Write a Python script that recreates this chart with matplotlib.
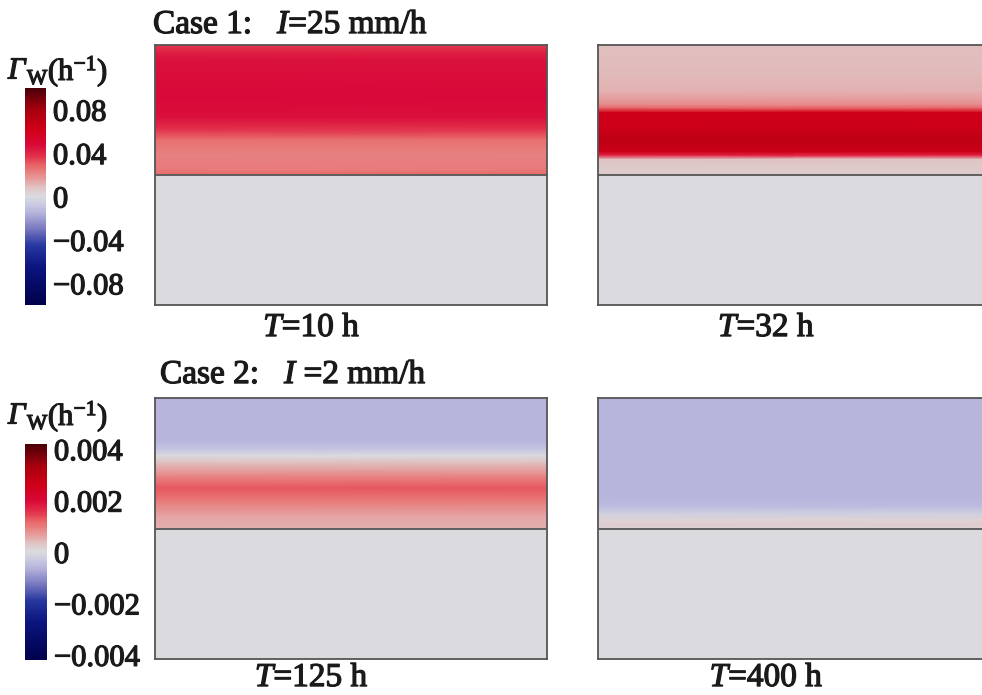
import numpy as np
import matplotlib
matplotlib.use("Agg")
import matplotlib.pyplot as plt
import matplotlib.patheffects as pe
from matplotlib.colors import LinearSegmentedColormap, Normalize
from matplotlib.cm import ScalarMappable

plt.rcParams['font.family'] = ['Liberation Serif', 'DejaVu Serif']
plt.rcParams['mathtext.fontset'] = 'custom'
plt.rcParams['mathtext.rm'] = 'Liberation Serif'
plt.rcParams['mathtext.it'] = 'Liberation Serif:italic'
plt.rcParams['mathtext.bf'] = 'Liberation Serif:bold'

# ---- data: vertical profiles of Gamma_W in the upper layer (height z from 0.5 to 1) ----
z_c1_t10 = [1.00, 0.97, 0.94, 0.80, 0.72, 0.67, 0.635, 0.58, 0.52, 0.50]
g_c1_t10 = [0.036, 0.042, 0.046, 0.048, 0.046, 0.036, 0.026, 0.022, 0.024, 0.028]

z_c1_t32 = [1.00, 0.90, 0.82, 0.77, 0.755, 0.74, 0.68, 0.635, 0.59, 0.575, 0.56, 0.53, 0.50]
g_c1_t32 = [0.009, 0.010, 0.012, 0.020, 0.030, 0.062, 0.064, 0.070, 0.064, 0.040, 0.008, 0.006, 0.006]

z_c2_t125 = [1.00, 0.837, 0.806, 0.779, 0.748, 0.70, 0.655, 0.605, 0.547, 0.50]
g_c2_t125 = [-0.0006, -0.0006, -0.0004, 0.0, 0.0004, 0.0009, 0.0013, 0.0010, 0.0006, 0.0005]

z_c2_t400 = [1.00, 0.80, 0.62, 0.585, 0.558, 0.535, 0.512, 0.50]
g_c2_t400 = [-0.0006, -0.0006, -0.0006, -0.0005, -0.0002, 0.0001, 0.0002, 0.0001]

lower_value = 0.0
interface_z = 0.5

case_titles = ["Case 1:   $\\mathit{I}$=25 mm/h", "Case 2:   $\\mathit{I}$ =2 mm/h"]
time_labels = [["$\\mathit{T}$=10 h", "$\\mathit{T}$=32 h"],
               ["$\\mathit{T}$=125 h", "$\\mathit{T}$=400 h"]]
vmax_cases = [0.10, 0.0042]
cb_ticks = [[0.08, 0.04, 0.0, -0.04, -0.08], [0.004, 0.002, 0.0, -0.002, -0.004]]
cb_ticklabels = [["0.08", "0.04", "0", "\u22120.04", "\u22120.08"],
                 ["0.004", "0.002", "0", "\u22120.002", "\u22120.004"]]

profiles = [[(z_c1_t10, g_c1_t10), (z_c1_t32, g_c1_t32)],
            [(z_c2_t125, g_c2_t125), (z_c2_t400, g_c2_t400)]]

# ---- colormap ----
nodes = [
    (0.000, "#00004a"),
    (0.175, "#0c1480"),
    (0.275, "#2838a0"),
    (0.350, "#7878c0"),
    (0.425, "#b6b4dc"),
    (0.460, "#c8c8e2"),
    (0.500, "#dadbe0"),
    (0.540, "#e0c4c4"),
    (0.590, "#e79494"),
    (0.640, "#e86868"),
    (0.690, "#e22e4a"),
    (0.740, "#d80838"),
    (0.810, "#d00018"),
    (0.900, "#a8000e"),
    (1.000, "#4a0008"),
]
cmap = LinearSegmentedColormap.from_list("gw", nodes)

W, H = 982, 695
fig = plt.figure(figsize=(W / 100, H / 100), dpi=100)

def ax_rect(left, top, right, bottom):
    return [left / W, 1 - bottom / H, (right - left) / W, (bottom - top) / H]

txt = '#1a1a1a'
semibold = [pe.withStroke(linewidth=0.9, foreground=txt)]

panel_boxes = [[(155, 45, 547, 305), (598, 45, 990, 305)],
               [(155, 398, 547, 659), (598, 398, 990, 659)]]
label_x = [0.40, 0.43]
label_y = [328, 678]
cb_boxes = [(25, 88, 46, 305), (25, 444, 47, 660)]
title_pos = [(153, 25), (160, 375)]
cblabel_pos = [(8, 71), (8, 416)]

edge = "#555555"
for r in range(2):
    norm = Normalize(vmin=-vmax_cases[r], vmax=vmax_cases[r])
    for c in range(2):
        ax = fig.add_axes(ax_rect(*panel_boxes[r][c]))
        z, g = profiles[r][c]
        z = np.asarray(z)
        g = np.asarray(g)
        X, Y = np.meshgrid([0.0, 1.0], z)
        C = np.column_stack([g, g])
        ax.pcolormesh(X, Y, C, cmap=cmap, norm=norm, shading='gouraud')
        Xl, Yl = np.meshgrid([0.0, 1.0], [0.0, interface_z])
        Cl = np.full(Xl.shape, lower_value)
        ax.pcolormesh(Xl, Yl, Cl, cmap=cmap, norm=norm, shading='gouraud')
        ax.axhline(interface_z, color=edge, lw=1.3)
        ax.set_xlim(0, 1)
        ax.set_ylim(0, 1)
        ax.set_xticks([])
        ax.set_yticks([])
        for s in ax.spines.values():
            s.set_color(edge)
            s.set_linewidth(1.3)
        x0, _, x1, _ = panel_boxes[r][c]
        xc = x0 + label_x[c] * (x1 - x0)
        fig.text(xc / W, 1 - label_y[r] / H, time_labels[r][c],
                 ha='center', va='center', fontsize=24, color=txt,
                 path_effects=semibold)

    # colorbar
    cax = fig.add_axes(ax_rect(*cb_boxes[r]))
    sm = ScalarMappable(norm=norm, cmap=cmap)
    cb = fig.colorbar(sm, cax=cax)
    cb.outline.set_visible(False)
    cb.set_ticks(cb_ticks[r])
    cb.set_ticklabels(cb_ticklabels[r])
    cax.tick_params(length=0, pad=5, labelsize=22, labelcolor=txt)
    for lab in cax.get_yticklabels():
        lab.set_path_effects(semibold)

    fig.text(title_pos[r][0] / W, 1 - title_pos[r][1] / H, case_titles[r],
             ha='left', va='center', fontsize=24, color=txt,
             path_effects=semibold)
    g_txt = fig.text(cblabel_pos[r][0] / W, 1 - cblabel_pos[r][1] / H, "\u0393",
                     ha='left', va='center', fontsize=22, color=txt,
                     style='italic', path_effects=semibold)
    fig.add_artist(plt.Annotation("$_{\\mathrm{W}}$(h$^{-1}$)", xy=(1.0, 0.5),
                                  xycoords=g_txt, xytext=(1, 0),
                                  textcoords='offset points',
                                  ha='left', va='center', fontsize=22, color=txt,
                                  path_effects=semibold))

fig.savefig("out.png", dpi=100)
